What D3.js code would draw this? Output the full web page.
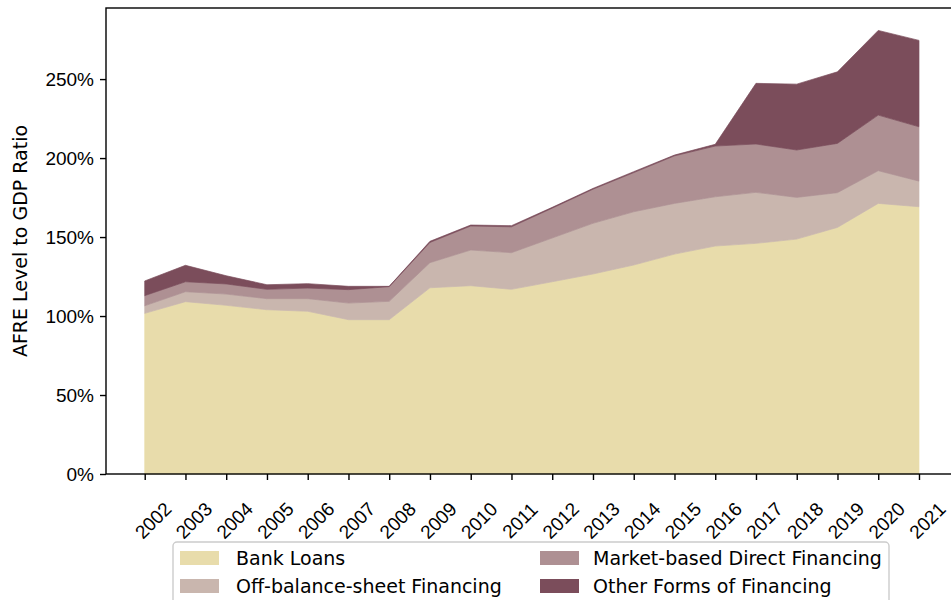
<!DOCTYPE html>
<html>
<head>
<meta charset="utf-8">
<script src="https://cdn.jsdelivr.net/npm/d3@7"></script>
<style>
  html, body { margin: 0; padding: 0; background: #ffffff; }
  svg { display: block; font-family: "DejaVu Sans", sans-serif; }
</style>
</head>
<body>
<svg id="chart" width="951" height="600"></svg>
<script>
const years = [2002,2003,2004,2005,2006,2007,2008,2009,2010,2011,2012,2013,2014,2015,2016,2017,2018,2019,2020,2021];
const bankLoans   = [101.7,109.1,106.8,104.0,103.0,97.7,97.7,117.9,119.2,116.9,121.7,126.6,132.3,139.2,144.3,146.0,148.7,156.1,171.3,169.2];
const offBalance  = [4.8,6.3,7.1,7.0,8.0,10.5,11.6,15.9,22.6,23.2,27.7,32.1,33.7,32.1,31.2,32.3,26.4,22.0,20.7,16.2];
const marketBased = [6.4,6.3,6.4,5.9,6.7,8.5,9.3,12.8,15.2,16.4,18.9,21.6,24.8,30.1,32.1,30.6,30.0,31.2,35.2,34.4];
const otherForms  = [9.3,10.4,5.2,2.9,2.8,2.1,0.2,0.7,0.6,0.7,0.5,0.5,0.6,0.5,1.1,38.4,41.7,45.3,53.6,54.7];
const seriesNames = ["Bank Loans","Off-balance-sheet Financing","Market-based Direct Financing","Other Forms of Financing"];
const seriesColors = ["#e8dcab","#c9b6ae","#ae9093","#7b4d5b"];
const yTicks = [0,50,100,150,200,250];
const yLabel = "AFRE Level to GDP Ratio";

(function () {
const svg = d3.select("#chart");
const mLeft = 106, mTop = 8, mBottom = 474, mRight = 957.7;
const x = d3.scaleLinear().domain([2001.05, 2021.95]).range([mLeft, mRight]);
const y = d3.scaleLinear().domain([0, 295]).range([mBottom, mTop]);

const keys = ["bank","off","market","other"];
const table = years.map((yr, i) => ({year: yr, bank: bankLoans[i], off: offBalance[i], market: marketBased[i], other: otherForms[i]}));
const stacked = d3.stack().keys(keys)(table);

const area = d3.area()
  .x(d => x(d.data.year))
  .y0(d => y(d[0]))
  .y1(d => y(d[1]));

svg.append("g").selectAll("path").data(stacked).join("path")
  .attr("d", area)
  .attr("fill", (d, i) => seriesColors[i])
  .attr("stroke", (d, i) => seriesColors[i])
  .attr("stroke-width", 0.7);

const fontSize = 19;
const xAxis = d3.axisBottom(x).tickValues(years).tickFormat(d3.format("d")).tickSize(6).tickPadding(6);
const gx = svg.append("g").attr("transform", `translate(0,${mBottom})`).call(xAxis);
gx.select(".domain").remove();
gx.selectAll(".tick line").attr("stroke", "#000").attr("stroke-width", 1.4);
gx.selectAll(".tick text")
  .attr("font-size", fontSize).attr("fill", "#000")
  .attr("text-anchor", "middle")
  .attr("dominant-baseline", "central")
  .attr("y", 0)
  .attr("transform", "translate(-1.5,37) rotate(-45)");

const yAxis = d3.axisLeft(y).tickValues(yTicks).tickFormat(d => d + "%").tickSize(6).tickPadding(6);
const gy = svg.append("g").attr("transform", `translate(${mLeft},0)`).call(yAxis);
gy.select(".domain").remove();
gy.selectAll(".tick line").attr("stroke", "#000").attr("stroke-width", 1.4);
gy.selectAll(".tick text").attr("font-size", fontSize).attr("fill", "#000");

svg.append("rect")
  .attr("x", mLeft).attr("y", mTop)
  .attr("width", mRight - mLeft).attr("height", mBottom - mTop)
  .attr("fill", "none").attr("stroke", "#000").attr("stroke-width", 1.4);

svg.append("text")
  .attr("transform", `translate(27,${(mTop + mBottom) / 2}) rotate(-90)`)
  .attr("text-anchor", "middle")
  .attr("font-size", 19)
  .attr("fill", "#000")
  .text(yLabel);

const lg = svg.append("g");
lg.append("rect")
  .attr("x", 173).attr("y", 542).attr("width", 716).attr("height", 70)
  .attr("rx", 4).attr("fill", "#fff").attr("fill-opacity", 0.8)
  .attr("stroke", "#cccccc").attr("stroke-width", 1.4);
const legendPos = [
  {sx: 180, tx: 236, cy: 558},
  {sx: 180, tx: 236, cy: 586},
  {sx: 540, tx: 593, cy: 558},
  {sx: 540, tx: 593, cy: 586}
];
seriesNames.forEach((name, i) => {
  const p = legendPos[i];
  lg.append("rect").attr("x", p.sx).attr("y", p.cy - 7).attr("width", 39).attr("height", 14)
    .attr("fill", seriesColors[i]);
  lg.append("text").attr("x", p.tx).attr("y", p.cy).attr("dominant-baseline", "central")
    .attr("font-size", fontSize).attr("fill", "#000").text(name);
});
})();
</script>
</body>
</html>
